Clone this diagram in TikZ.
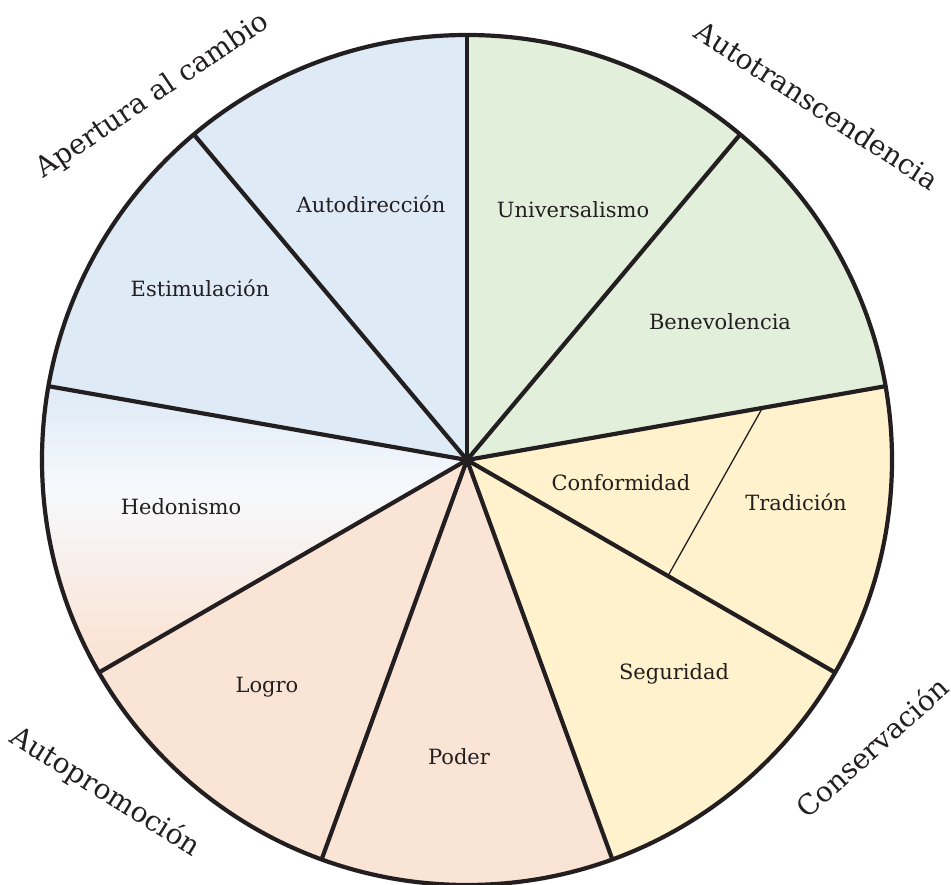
\documentclass[tikz,border=0pt]{standalone}
\usepackage{fontspec}
\setmainfont{DejaVu Serif}
\definecolor{vblue}{HTML}{DEEAF6}
\definecolor{vgreen}{HTML}{E2EFDA}
\definecolor{vyellow}{HTML}{FFF2CC}
\definecolor{vpeach}{HTML}{FAE4D6}
\definecolor{vwhite}{HTML}{F6F9FD}
\definecolor{linec}{HTML}{231F20}
\definecolor{textc}{HTML}{231F20}
% Hedonism sector fades from blue (top) to peach (bottom)
\pgfdeclareverticalshading{hedonshade}{100bp}{color(0bp)=(vpeach); color(30bp)=(vpeach); color(57bp)=(vwhite); color(75bp)=(vblue); color(100bp)=(vblue)}
\begin{document}
\begin{tikzpicture}[x=1pt,y=1pt,
  spoke/.style={line width=4.2pt, draw=linec},
  thin/.style={line width=1.3pt, draw=linec},
  inner/.style={font=\fontsize{21}{25}\selectfont, text=textc},
  outer/.style={font=\fontsize{28}{32}\selectfont, text=textc}]
\useasboundingbox (0,0) rectangle (951,885);
\def\R{425}
\coordinate (c) at (467,425);
% sector fills
\fill[vblue] (c) -- ++(90:\R) arc[start angle=90, end angle=170, radius=\R] -- cycle;
\shade[shading=hedonshade] (c) -- ++(170:\R) arc[start angle=170, end angle=210, radius=\R] -- cycle;
\fill[vpeach] (c) -- ++(210:\R) arc[start angle=210, end angle=290, radius=\R] -- cycle;
\fill[vyellow] (c) -- ++(290:\R) arc[start angle=290, end angle=370, radius=\R] -- cycle;
\fill[vgreen] (c) -- ++(10:\R) arc[start angle=10, end angle=90, radius=\R] -- cycle;
% spokes
\foreach \a in {90,50,10,-30,-70,-110,-150,170,130} {
  \path (c) ++(\a:\R) coordinate (p\a);
  \draw[spoke] (c) -- (p\a);
}
% outer ring
\draw[spoke] (c) circle[radius=\R];
% thin divider between Tradición and Conformidad
\path (c) ++(10:300) coordinate (t1);
\path (c) ++(-30:232) coordinate (t2);
\draw[thin] (t1) -- (t2);
% value labels
\node[inner] (autodir) at (371,681) {Autodirección};
\node[inner] (univ) at (573,675) {Universalismo};
\node[inner] (benev) at (720,563) {Benevolencia};
\node[inner] (trad) at (796,383) {Tradición};
\node[inner] (conf) at (621,402) {Conformidad};
\node[inner] (seg) at (674,211) {Seguridad};
\node[inner] (poder) at (459,128) {Poder};
\node[inner] (logro) at (267,198) {Logro};
\node[inner] (hedon) at (181,378) {Hedonismo};
\node[inner] (estim) at (200,597) {Estimulación};
% higher-order dimensions
\node[outer, rotate=34] (apert) at (153,789) {Apertura al cambio};
\node[outer, rotate=-33] (autot) at (817,780) {Autotranscendencia};
\node[outer, rotate=-32] (autop) at (105,93) {Autopromoción};
\node[outer, rotate=42] (conse) at (872,138) {Conservación};
\end{tikzpicture}
\end{document}
